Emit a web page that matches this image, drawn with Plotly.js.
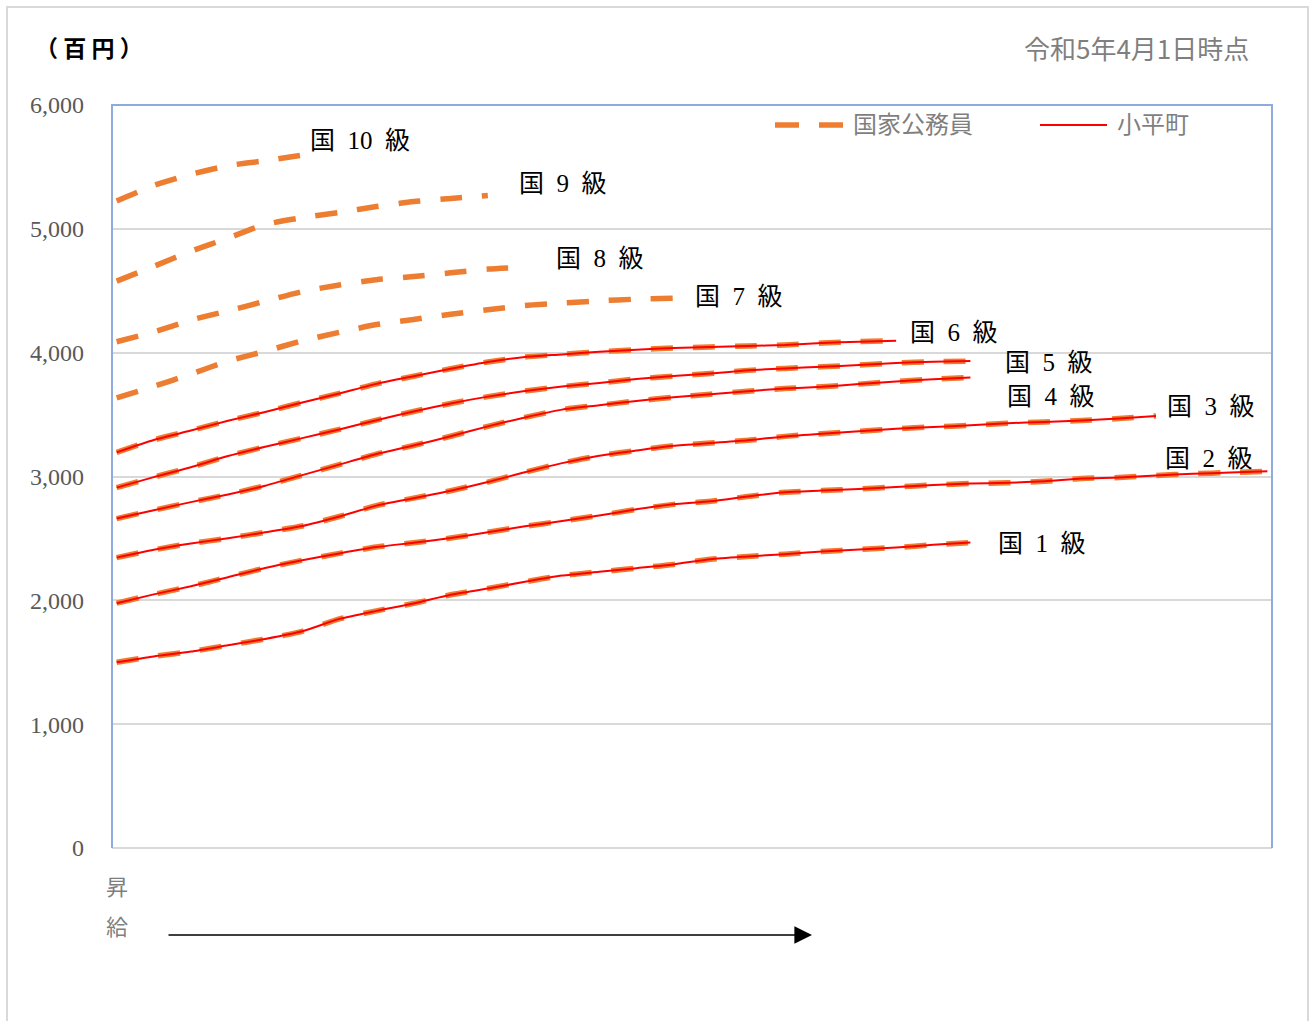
<!DOCTYPE html>
<html>
<head>
<meta charset="utf-8">
<script src="https://cdn.plot.ly/plotly-3.0.1.min.js"></script>
<style>
html,body{margin:0;padding:0;background:#fff;}
#chart{width:1311px;height:1021px;}
</style>
</head>
<body>
<div id="chart"></div>
<script>
// 号俸 (sampled every 4 steps)
const steps = [1,5,9,13,17,21,25,29,33,37,41,45,49,53,57,61,65,69,73,77,81,85,89,93,97,101,105,109,113,117,121,125];

// 国家公務員 (百円)
const nat1 = [1500,1547,1586,1637,1688,1750,1850,1915,1975,2045,2095,2150,2200,2230,2260,2290,2332,2354,2373,2394,2411,2427,2448,2467];
const nat2 = [1977,2048,2113,2187,2261,2323,2379,2430,2465,2503,2550,2598,2640,2685,2735,2775,2800,2838,2873,2886,2900,2916,2932,2943,2949,2962,2984,2992,3008,3022,3032,3043];
const nat3 = [2345,2408,2459,2501,2549,2600,2677,2765,2825,2885,2955,3035,3108,3168,3210,3248,3270,3292,3324,3346,3365,3386,3400,3413,3430,3441,3452,3468,3489];
const nat4 = [2660,2728,2793,2855,2926,3011,3096,3181,3250,3325,3405,3477,3540,3575,3610,3640,3665,3689,3711,3724,3746,3768,3786,3800];
const nat5 = [2910,2995,3075,3165,3240,3310,3380,3455,3525,3590,3645,3690,3726,3756,3787,3811,3832,3857,3873,3886,3900,3916,3927,3932];
const nat6 = [3195,3295,3371,3450,3521,3598,3671,3748,3810,3870,3925,3965,3986,4008,4024,4038,4046,4054,4062,4078,4089,4097];
const nat7 = [3634,3728,3827,3932,4011,4096,4164,4227,4268,4310,4346,4381,4400,4419,4432,4440];
const nat8 = [4088,4167,4263,4337,4416,4493,4547,4589,4615,4645,4675,4690];
const nat9 = [4578,4697,4819,4925,5035,5090,5133,5180,5220,5245,5270];
const nat10 = [5225,5350,5440,5510,5550,5595];

// 小平町 (百円) — drawn on top of 国 1〜6 級
const town1 = nat1;
const town2 = nat2;
const town3 = nat3;
const town4 = nat4;
const town5 = nat5;
const town6 = nat6;

const natSeries = [nat1,nat2,nat3,nat4,nat5,nat6,nat7,nat8,nat9,nat10];
const townSeries = [town1,town2,town3,town4,town5,town6];

// grade labels: text, step position, value position
const NB = '\u00A0';
const labelTexts = ['1','2','3','4','5','6','7','8','9','10'].map(n => '国' + NB + NB + n + NB + NB + '級');
const labelStep  = [95.8, 113.8, 114.0, 96.7, 96.5, 86.3, 63.1, 48.1, 44.1, 21.6];
const labelValue = [2460, 3145, 3565, 3645, 3920, 4161, 4452, 4758, 5363, 5710];

const yTicks = [0,1000,2000,3000,4000,5000,6000];

const ORANGE = '#ED7D31';
const RED = '#FF0000';

const traces = [];
natSeries.forEach((v,i)=>{
  traces.push({
    x: steps.slice(0, v.length), y: v, type:'scatter', mode:'lines',
    name:'国家公務員', showlegend:false, hoverinfo:'skip',
    line:{color:ORANGE, width:5.5, dash:'22px,20px', shape:'spline', smoothing:0.6}
  });
});
townSeries.forEach((v,i)=>{
  traces.push({
    x: steps.slice(0, v.length), y: v, type:'scatter', mode:'lines',
    name:'小平町', showlegend:false, hoverinfo:'skip',
    line:{color:RED, width:2, shape:'spline', smoothing:0.6}
  });
});

// pixel -> paper helpers (plot area 112..1272 x 105..848)
const px = x => (x-112)/1160;
const py = y => (848-y)/743;

const serifCJK = '"Liberation Serif", "Noto Sans CJK JP", serif';
const sansCJK = '"Noto Sans CJK JP", "Noto Sans", sans-serif';

const annotations = labelTexts.map((t,i)=>({
  x: labelStep[i], y: labelValue[i], xref:'x', yref:'y',
  text: t, showarrow:false, xanchor:'left', yanchor:'middle',
  font:{family:serifCJK, size:25, color:'#000'}
}));

annotations.push(
  {x:px(33), y:py(47), xref:'paper', yref:'paper', text:'<b>（' + NB + '百' + NB + '円' + NB + '）</b>', showarrow:false,
   xanchor:'left', yanchor:'middle', font:{family:sansCJK, size:23, color:'#000'}},
  {x:px(1251), y:py(47), xref:'paper', yref:'paper', text:'令和5年4月1日時点', showarrow:false,
   xanchor:'right', yanchor:'middle', font:{family:sansCJK, size:26, color:'#7f7f7f'}},
  {x:px(851), y:py(123), xref:'paper', yref:'paper', text:'国家公務員', showarrow:false,
   xanchor:'left', yanchor:'middle', font:{family:sansCJK, size:24, color:'#7f7f7f'}},
  {x:px(1115), y:py(123), xref:'paper', yref:'paper', text:'小平町', showarrow:false,
   xanchor:'left', yanchor:'middle', font:{family:sansCJK, size:24, color:'#7f7f7f'}},
  {x:px(117), y:py(885), xref:'paper', yref:'paper', text:'昇', showarrow:false,
   xanchor:'center', yanchor:'middle', font:{family:sansCJK, size:22, color:'#7f7f7f'}},
  {x:px(117), y:py(925), xref:'paper', yref:'paper', text:'給', showarrow:false,
   xanchor:'center', yanchor:'middle', font:{family:sansCJK, size:22, color:'#7f7f7f'}},
  {x:px(812), y:py(935), xref:'paper', yref:'paper', text:'', showarrow:true,
   ax:-645, ay:0, arrowhead:2, arrowsize:2.2, arrowwidth:1.6, arrowcolor:'#000', standoff:0}
);

const shapes = [
  // outer frame
  {type:'rect', xref:'paper', yref:'paper', x0:px(7), x1:px(1308), y0:py(1040), y1:py(7),
   line:{color:'#d9d9d9', width:2}, fillcolor:'rgba(0,0,0,0)', layer:'below'},
  // plot area border (left, top, right) in blue
  {type:'path', xref:'paper', yref:'paper', path:'M 0,0 L 0,1 L 1,1 L 1,0',
   line:{color:'#8FAADC', width:2}, layer:'above'},
  // legend samples
  {type:'line', xref:'paper', yref:'paper', x0:px(775), x1:px(845), y0:py(125), y1:py(125),
   line:{color:ORANGE, width:5.5, dash:'24px,20px'}},
  {type:'line', xref:'paper', yref:'paper', x0:px(1040), x1:px(1107), y0:py(125), y1:py(125),
   line:{color:RED, width:2}}
];

const layout = {
  width:1311, height:1021,
  margin:{l:112, r:39, t:105, b:173},
  paper_bgcolor:'#fff', plot_bgcolor:'#fff',
  showlegend:false,
  xaxis:{range:[0.5,125.5], showticklabels:false, showgrid:false, zeroline:false, showline:false, ticks:''},
  yaxis:{range:[0,6000], tickvals:yTicks, tickformat:',d', showgrid:true, gridcolor:'#d9d9d9', gridwidth:2,
         zeroline:true, zerolinecolor:'#d9d9d9', zerolinewidth:2, showline:false, ticks:'',
         ticklabelstandoff:27, tickfont:{family:'"Liberation Serif", serif', size:24, color:'#595959'}},
  annotations: annotations,
  shapes: shapes
};

Plotly.newPlot('chart', traces, layout, {displayModeBar:false, staticPlot:true});
</script>
</body>
</html>
